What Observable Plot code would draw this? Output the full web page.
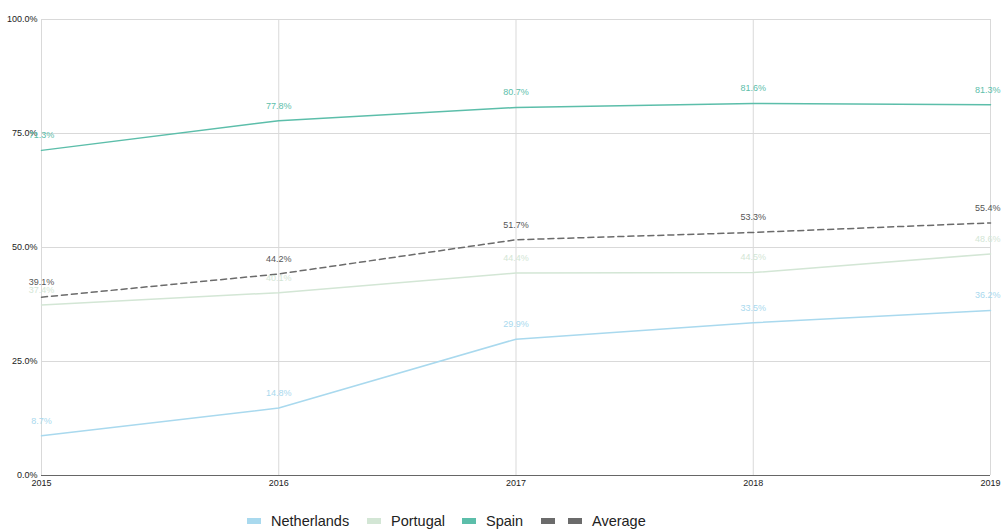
<!DOCTYPE html>
<html><head><meta charset="utf-8">
<script src="https://cdn.jsdelivr.net/npm/d3@7"></script>
<script src="https://cdn.jsdelivr.net/npm/@observablehq/plot@0.6"></script>
<style>
body{margin:0;background:#fff;font-family:"Liberation Sans",Arial,sans-serif;overflow:hidden;}
#legend{position:relative;height:30px;font-size:14.5px;color:#222;}
.item{position:absolute;top:13px;display:flex;align-items:center;}
.sw{display:inline-block;width:14px;height:6px;margin-right:10px;}
</style></head><body>
<div id="chart"></div>
<div id="legend"></div>
<script>
const years = [2015, 2016, 2017, 2018, 2019];
const netherlands = [8.7, 14.8, 29.9, 33.5, 36.2];
const portugal = [37.4, 40.1, 44.4, 44.5, 48.6];
const spain = [71.3, 77.8, 80.7, 81.6, 81.3];
const average = [39.1, 44.2, 51.7, 53.3, 55.4];
const yTicks = [0, 25, 50, 75, 100];
const seriesNames = ["Netherlands", "Portugal", "Spain", "Average"];
const colors = ["#a9d9ee", "#d3e6d5", "#5cbeaa", "#6b6b6b"];

const allSeries = [netherlands, portugal, spain, average];
const data = [];
allSeries.forEach((vals, i) => vals.forEach((v, j) => data.push({series: seriesNames[i], year: years[j], value: v, color: colors[i]})));
const solid = data.filter(d => d.series !== "Average");
const avg = data.filter(d => d.series === "Average");
const lastYear = years[years.length - 1];

const chart = Plot.plot({
  width: 1001, height: 500,
  marginLeft: 41, marginRight: 11, marginTop: 19, marginBottom: 25,
  style: {fontFamily: "'Liberation Sans', Arial, sans-serif", fontSize: "9px", color: "#222"},
  x: {domain: [2015, 2019], ticks: years, tickFormat: d => String(d), tickSize: 0, tickPadding: 4, label: null},
  y: {domain: [0, 100], ticks: yTicks, tickFormat: d => d.toFixed(1) + "%", tickSize: 0, tickPadding: 4, label: null},
  marks: [
    Plot.ruleY(yTicks.slice(1), {stroke: "#d9d9d9"}),
    Plot.ruleX(years, {stroke: "#d9d9d9"}),
    Plot.ruleY([0], {stroke: "#666"}),
    Plot.line(solid, {x: "year", y: "value", z: "series", stroke: "color", strokeWidth: 1.5}),
    Plot.line(avg, {x: "year", y: "value", stroke: "color", strokeWidth: 1.5, strokeDasharray: "6,4"}),
    Plot.text(data.filter(d => d.year !== lastYear), {x: "year", y: "value", text: d => d.value.toFixed(1) + "%", fill: d => d.series === "Average" ? "#555" : d.color, dy: -15, fontSize: 9}),
    Plot.text(data.filter(d => d.year === lastYear), {x: "year", y: "value", text: d => d.value.toFixed(1) + "%", fill: d => d.series === "Average" ? "#555" : d.color, dy: -15, dx: 10, textAnchor: "end", fontSize: 9})
  ]
});
document.getElementById("chart").appendChild(chart);

const legend = document.getElementById("legend");
const lefts = [247, 367, 462, 541];
seriesNames.forEach((name, i) => {
  const it = document.createElement("div");
  it.className = "item";
  it.style.left = lefts[i] + "px";
  if (name === "Average") {
    it.innerHTML = `<span class="sw" style="background:${colors[i]};margin-right:13px"></span><span class="sw" style="background:${colors[i]}"></span>${name}`;
  } else {
    it.innerHTML = `<span class="sw" style="background:${colors[i]}"></span>${name}`;
  }
  legend.appendChild(it);
});
</script>
</body></html>
